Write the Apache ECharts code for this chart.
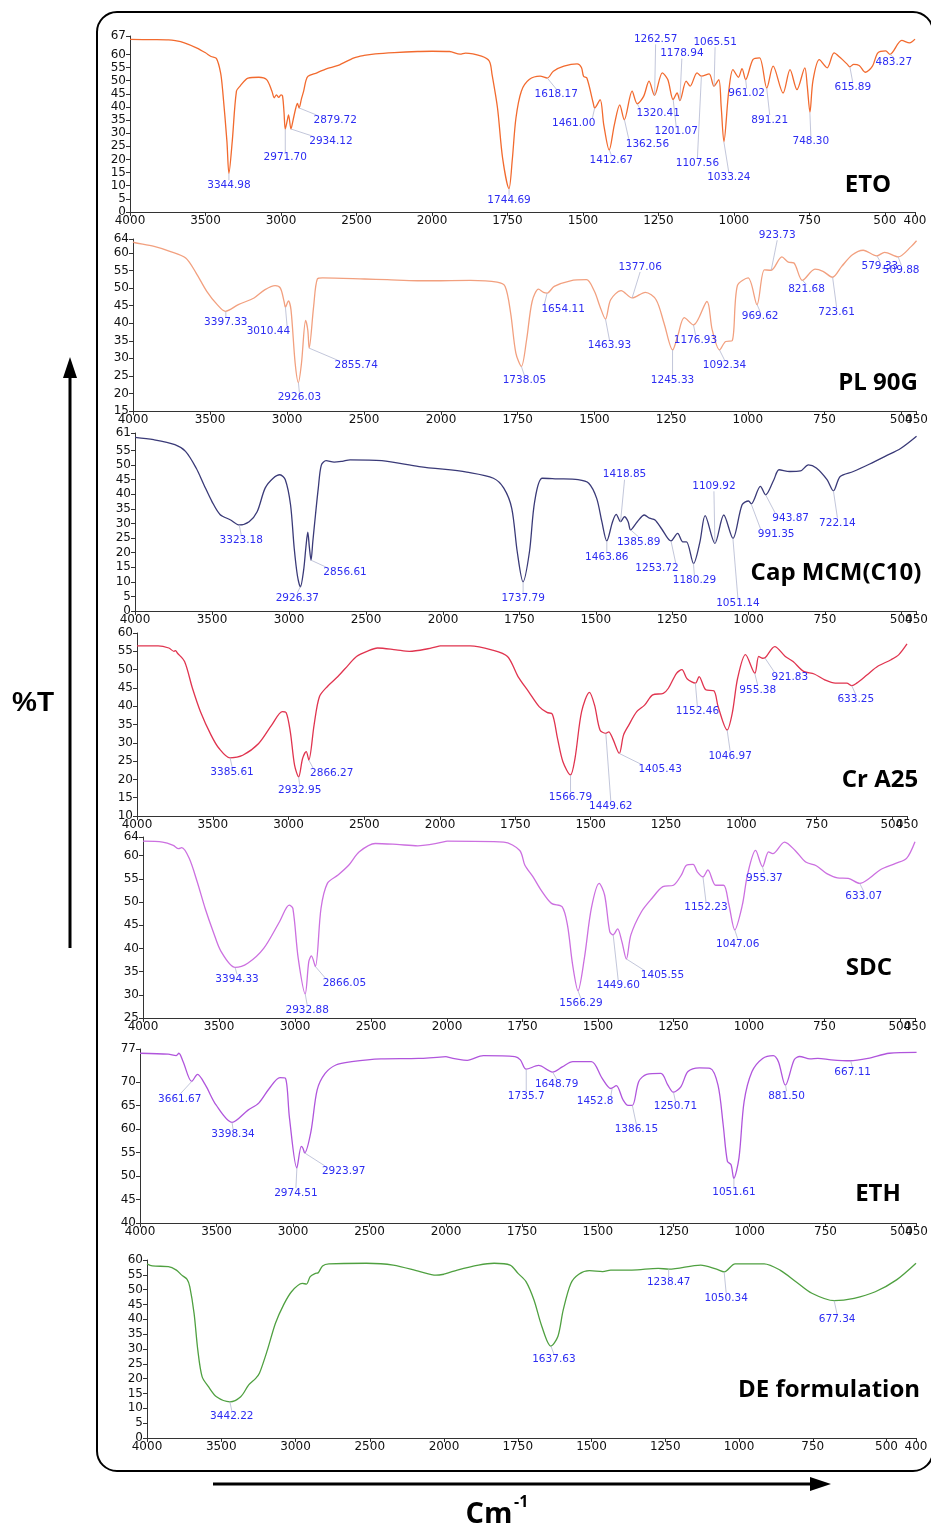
<!DOCTYPE html>
<html>
<head>
<meta charset="utf-8">
<script src="https://cdn.jsdelivr.net/npm/echarts@6/dist/echarts.min.js"></script>
<style>html,body{margin:0;padding:0;background:#fff}#main{width:931px;height:1527px}</style>
</head>
<body>
<div id="main"></div>
<script>
// tick labels
var xTicksLeft = [4000, 3500, 3000, 2500, 2000];
var xTicksRight400 = [1750, 1500, 1250, 1000, 750, 500, 400];
var xTicksRight450 = [1750, 1500, 1250, 1000, 750, 500, 450];
var etoTicks = [0, 5, 10, 15, 20, 25, 30, 35, 40, 45, 50, 55, 60, 67];
var pl90gTicks = [15, 20, 25, 30, 35, 40, 45, 50, 55, 60, 64];
var capTicks = [0, 5, 10, 15, 20, 25, 30, 35, 40, 45, 50, 55, 61];
var crTicks = [10, 15, 20, 25, 30, 35, 40, 45, 50, 55, 60];
var sdcTicks = [25, 30, 35, 40, 45, 50, 55, 60, 64];
var ethTicks = [40, 45, 50, 55, 60, 65, 70, 75, 77];
var deTicks = [0, 5, 10, 15, 20, 25, 30, 35, 40, 45, 50, 55, 60];

// spectra: [wavenumber cm-1, %T]
var etoData = [[4000,65.7],[3850,65.6],[3745,65.5],[3700,65.2],[3640,64.4],[3560,62.5],[3500,60.6],[3463,59.2],[3428,58.5],[3400,53],[3386,46],[3358,26.8],[3345,14.7],[3323,26.8],[3295,46],[3270,48],[3218,51],[3147,51.3],[3095,50.4],[3060,46],[3045,43.5],[3030,44.6],[3015,43.6],[3000,44.6],[2990,44.2],[2980,38],[2972,31.6],[2958,35],[2950,37],[2934,31.6],[2920,35],[2902,39.6],[2891,41.3],[2880,39.6],[2865,43],[2850,46],[2835,50],[2821,51.7],[2762,53],[2700,54.5],[2621,55.8],[2516,58.7],[2450,59.6],[2375,60.2],[2250,60.7],[2095,61.1],[2000,61.2],
  [1942,61.1],[1907,60.1],[1889,60.5],[1836,59.3],[1810,57.4],[1801,52.3],[1783,39.6],[1766,20.4],[1745,8.9],[1734,20],[1722,35.7],[1704,46],[1678,50.4],[1642,51.7],[1618,51],[1598,53.6],[1563,55.5],[1519,56.4],[1505,55],[1498,51.7],[1487,51],[1466,41.5],[1461,39.6],[1443,42.8],[1431,33.2],[1413,23.6],[1396,33.2],[1378,40.8],[1363,35.1],[1337,46],[1320,41.2],[1299,44],[1281,49.8],[1263,44.4],[1237,53],[1219,50.4],[1201,42.8],[1188,45.3],[1179,42.4],[1158,49.8],[1145,47.9],[1122,53],[1108,51.7],[1082,52.6],[1066,47.9],[1050,50.4],[1042,40],[1033,26.8],[1017,46],[1003,54.2],[985,51.3],[973,54.6],[961,50.4],[937,58],[915,58.7],[891,47.2],[870,55.5],[837,45.3],[814,54.2],[791,46.6],[765,54.9],[757,48],[748,38],[738,50],[717,58],[691,54.9],[668,60.6],[647,58.7],[624,56.2],[616,55.3],[603,56.2],[585,55.8],[564,53.2],[541,55.5],[523,60.6],[497,61.3],[483,60],[444,65.3],[418,64.4],[400,65.8]];
var pl90gData = [[4000,63.2],[3993,63],[3863,61.9],[3761,60.5],[3658,58.6],[3590,54.3],[3521,49.1],[3453,45.3],[3400,43.4],[3316,45.3],[3214,47.2],[3145,49.5],[3077,50.7],[3043,50],[3019,46.2],[3010,44.6],[2991,46.4],[2974,43.8],[2947,28.6],[2926,23.1],[2906,28.6],[2879,40.8],[2865,38],[2856,32.9],[2827,44.8],[2803,52.6],[2769,52.9],[2496,52.6],[2350,52.4],[2154,52.1],[2000,52.1],
  [1904,52.2],[1817,51.7],[1791,50.5],[1773,42.9],[1756,31.5],[1738,27.7],[1721,35.3],[1703,46.2],[1682,49.7],[1666,48.8],[1654,48.6],[1631,50.5],[1578,52.1],[1526,52.4],[1500,49.1],[1482,44.8],[1464,41.2],[1447,46.7],[1413,49.3],[1377,47.2],[1334,48.8],[1299,46.7],[1273,40],[1245,32.4],[1229,36.2],[1207,41.6],[1177,39.5],[1133,46.2],[1116,38.1],[1092,32.4],[1072,34.8],[1051,35],[1034,50.7],[999,52.9],[970,45.3],[946,55.2],[924,55.1],[889,58.9],[868,57.4],[850,57.2],[822,52.2],[781,55.4],[755,54.8],[724,53.1],[694,56.2],[659,59.5],[624,60.8],[580,59.2],[554,60.2],[510,58.9],[467,61.9],[450,63.5]];
var capData = [[4000,59.5],[3879,58.7],[3741,57],[3672,54.7],[3603,49],[3552,43.2],[3500,37.5],[3448,33.1],[3379,31.2],[3323,29.5],[3259,30.6],[3207,34],[3155,42.1],[3103,45.5],[3059,46.7],[3024,45],[2990,36.4],[2966,21.4],[2945,12],[2926,8.3],[2905,14],[2890,22],[2878,27],[2868,22],[2857,17.4],[2845,24],[2828,33],[2810,42],[2790,50],[2759,51.5],[2707,51],[2655,51.3],[2603,51.8],[2397,51.5],[2155,49.5],[2000,48.6],
  [1922,47.6],[1835,45.5],[1801,42.1],[1775,35.2],[1757,20.3],[1738,10],[1717,20.3],[1700,37.5],[1675,45.5],[1627,45.3],[1558,45],[1523,43.8],[1497,38.6],[1480,30.6],[1464,24],[1445,30.6],[1433,33.1],[1419,30.6],[1406,32.3],[1394,30.6],[1386,27.8],[1364,30.6],[1341,32.9],[1324,31.8],[1306,31.2],[1284,28.1],[1254,24],[1232,26.6],[1215,23.7],[1203,23.7],[1180,16.3],[1159,23.7],[1142,32.7],[1110,23.2],[1081,32.9],[1051,24.9],[1021,36.4],[1000,37.7],[991,36.7],[961,42.7],[944,39.8],[917,45],[900,48.4],[865,47.8],[830,48],[804,50.1],[778,49],[743,45],[722,41.2],[700,46.1],[657,47.8],[605,50.3],[553,53],[501,55.8],[450,59.9]];
var crData = [[4000,56.5],[3860,56.5],[3790,55.9],[3756,55],[3745,55.2],[3735,54.6],[3686,52.2],[3634,44.9],[3581,38.5],[3511,32.1],[3459,28.5],[3386,25.9],[3302,26.6],[3197,29.8],[3110,34.9],[3040,38.5],[3016,38.3],[2988,33],[2960,23.9],[2933,20.7],[2907,25.7],[2883,27.6],[2866,25.3],[2831,34.9],[2796,42.6],[2743,45.4],[2674,48.1],[2604,51.3],[2551,53.6],[2482,55],[2412,55.9],[2290,55.4],[2202,55],[2080,55.7],[2000,56.5],
  [1900,56.5],[1829,55.4],[1776,53.6],[1741,48.1],[1706,44],[1671,39.9],[1645,38.3],[1627,37.8],[1610,31.2],[1592,24.8],[1567,21.2],[1552,25.7],[1530,38.5],[1504,43.8],[1487,40.3],[1469,33.5],[1450,32.6],[1440,33],[1426,31],[1405,27.1],[1391,32.1],[1373,34.9],[1347,38.5],[1321,40.3],[1294,43.1],[1259,43.5],[1242,44.9],[1215,49],[1197,50],[1180,47.5],[1152,46.3],[1140,48.1],[1118,44.5],[1091,44.2],[1077,39.9],[1047,33.5],[1030,38.1],[1012,47.7],[986,54.1],[955,49],[942,53.6],[930,53.1],[922,53.2],[889,56.3],[854,53.6],[828,52.2],[793,49.5],[758,48.8],[723,47.2],[688,46.3],[650,46.3],[633,45.6],[617,46.3],[582,48.6],[547,50.9],[503,52.7],[477,54.1],[450,57]];
var sdcData = [[4000,63.1],[3871,62.9],[3801,62.2],[3766,61.5],[3745,61.7],[3696,59.4],[3643,54.3],[3591,48.6],[3538,43.6],[3486,39.3],[3394,35.9],[3311,36.8],[3206,40],[3101,45.8],[3038,49.3],[3014,48.6],[2979,37.9],[2933,30.2],[2909,37.2],[2892,38.4],[2866,36.1],[2829,48.6],[2787,54],[2717,55.8],[2647,57.9],[2577,60.8],[2472,62.6],[2332,62.4],[2192,62.1],[2000,63.1],
  [1812,62.9],[1759,61.1],[1742,57.9],[1715,55.4],[1689,52.6],[1654,49.7],[1619,49],[1601,45],[1584,36.5],[1566,30.9],[1545,37.9],[1522,48.6],[1496,54],[1478,51.5],[1461,43.6],[1450,42.9],[1435,44.2],[1421,41.5],[1406,37.7],[1391,42.9],[1356,47.9],[1321,50.8],[1285,53.3],[1250,53.6],[1224,55.8],[1207,57.9],[1185,58.1],[1171,56.5],[1152,55.4],[1136,56.9],[1110,53.6],[1084,53.6],[1066,49.3],[1047,44],[1022,49.3],[1005,55.8],[978,61.1],[955,57.6],[935,60.8],[921,60.4],[882,62.9],[847,61.1],[812,58.6],[777,57.8],[742,56.1],[707,55.2],[671,55.1],[633,54],[601,55.1],[566,56.9],[514,58.3],[478,59.4],[450,63]];
var ethData = [[4000,76.1],[3816,75.9],[3763,75.6],[3746,76.1],[3718,74.3],[3662,70.1],[3624,71.6],[3572,69.3],[3503,65.1],[3398,61.4],[3294,64],[3224,65.5],[3155,68.6],[3085,70.9],[3050,70.8],[3023,62.3],[2975,51.7],[2946,56.3],[2935,55.9],[2924,54.9],[2883,59.4],[2842,68.3],[2790,71.8],[2720,73.6],[2616,74.3],[2424,74.9],[2181,75],[2000,75.4],
  [1930,74.6],[1877,75.6],[1773,75.4],[1755,74.7],[1736,72.7],[1695,73.5],[1649,72.1],[1617,73.2],[1582,74.3],[1521,74.3],[1486,70.8],[1457,68.6],[1439,69.2],[1417,66.2],[1400,65],[1386,65],[1365,70.1],[1339,71.6],[1292,71.8],[1269,69.3],[1251,67.8],[1226,69],[1203,72.2],[1165,73],[1130,72.9],[1104,69.3],[1087,60.9],[1073,53.1],[1061,52.4],[1052,49.5],[1035,53.8],[1018,65.8],[992,72.2],[957,75],[922,75.6],[905,74.3],[882,69.3],[853,74.7],[835,75.4],[801,74.9],[775,75],[731,74.7],[670,74.5],[610,75],[540,76.1],[450,76.3]];
var deData = [[4000,58.7],[3964,58],[3856,57.8],[3802,56.6],[3766,54.9],[3730,53.5],[3712,51],[3683,42],[3658,29.7],[3629,20.7],[3586,17.3],[3532,13.9],[3442,12.2],[3369,13.9],[3315,17.9],[3268,20.1],[3243,21.8],[3189,29.7],[3135,38.7],[3081,44.8],[3027,49.3],[2955,52.1],[2926,51.9],[2901,54.4],[2865,55.5],[2847,55.7],[2818,58],[2775,58.7],[2523,58.9],[2342,58.3],[2162,56.1],[2054,54.9],[2000,55.2],
  [1955,56.6],[1883,58.3],[1830,58.9],[1776,58.3],[1749,55.5],[1722,52.7],[1695,46.5],[1668,37.5],[1638,31],[1614,34.2],[1596,43.1],[1570,52.1],[1543,55.2],[1507,56.4],[1462,56.1],[1435,56.6],[1363,56.6],[1274,57.2],[1238,56.9],[1130,58.3],[1076,56.9],[1050,56],[1013,58.7],[915,58.7],[861,56.6],[807,52.7],[753,48.8],[677,46.3],[610,47.1],[538,49.3],[466,53.3],[400,58.9]];

// peak labels: [text, %T at peak]
var etoPeaks = [['3344.98',14.7],['2971.70',31.6],['2934.12',31.6],['2879.72',39.6],['1744.69',8.9],['1618.17',51],['1461.00',39.6],['1412.67',23.6],['1362.56',35.1],['1320.41',41.2],['1262.57',44.4],['1201.07',42.8],['1178.94',42.4],['1107.56',51.7],['1065.51',47.9],['1033.24',26.8],['961.02',50.4],['891.21',47.2],['748.30',38],['615.89',55.3],['483.27',60]];
var pl90gPeaks = [['3397.33',43.4],['3010.44',44.6],['2926.03',23.1],['2855.74',32.9],['1738.05',27.7],['1654.11',48.6],['1377.06',47.2],['1463.93',41.2],['1245.33',32.4],['1176.93',39.5],['1092.34',32.4],['969.62',45.3],['923.73',55.1],['821.68',52.2],['723.61',53.1],['579.33',59.2],['509.88',58.9]];
var capPeaks = [['3323.18',29.5],['2926.37',8.3],['2856.61',17.4],['1737.79',10],['1418.85',30.6],['1463.86',24],['1385.89',27.8],['1253.72',24],['1180.29',16.3],['1109.92',23.2],['1051.14',24.9],['991.35',36.7],['943.87',39.8],['722.14',41.2]];
var crPeaks = [['3385.61',25.9],['2932.95',20.7],['2866.27',25.3],['1566.79',21.2],['1449.62',32.6],['1405.43',27.1],['1152.46',46.3],['1046.97',33.5],['955.38',49],['921.83',53.2],['633.25',45.6]];
var sdcPeaks = [['3394.33',35.9],['2932.88',30.2],['2866.05',36.1],['1566.29',30.9],['1449.60',42.9],['1405.55',37.7],['1152.23',55.4],['1047.06',44],['955.37',57.6],['633.07',54]];
var ethPeaks = [['3661.67',70.1],['3398.34',61.4],['2974.51',51.7],['2923.97',54.9],['1735.7',72.7],['1648.79',72.1],['1452.8',68.6],['1386.15',65],['1250.71',67.8],['1051.61',49.5],['881.50',69.3],['667.11',74.5]];
var dePeaks = [['3442.22',12.2],['1637.63',31],['1238.47',56.9],['1050.34',56],['677.34',46.3]];

// label offsets in px from the peak (layout only)
var etoOffsets = [[0,12],[0,28],[40,12],[36,12],[0,12],[9,16],[-21,15],[2,10],[23,24],[21,9],[1,-56],[3,32],[2,-47],[-4,87],[1,-44],[5,36],[1,14],[3,32],[1,29],[3,21],[4,8]];
var pl90gOffsets = [[0,11],[-17,24],[1,15],[47,17],[3,14],[16,16],[8,-31],[4,26],[0,30],[2,15],[5,15],[3,12],[6,-35],[4,9],[4,35],[3,10],[3,13]];
var capOffsets = [[2,15],[-3,11],[34,12],[0,16],[4,-47],[0,16],[8,12],[-14,27],[1,17],[-1,-57],[5,65],[25,30],[25,23],[4,32]];
var crOffsets = [[2,14],[1,13],[23,13],[0,22],[5,73],[41,16],[2,28],[3,26],[3,17],[25,19],[4,14]];
var sdcOffsets = [[2,12],[2,16],[29,17],[3,13],[5,50],[36,16],[3,30],[3,14],[2,12],[4,13]];
var ethOffsets = [[-12,18],[1,12],[-1,25],[39,18],[0,27],[4,12],[-17,13],[4,24],[2,14],[0,14],[1,11],[2,12]];
var deOffsets = [[2,14],[3,13],[0,13],[2,26],[3,19]];

// panel layout: box = [x of 4000, x of 2000, x of end, y top, y bottom]
var panels = [
    {name: 'ETO', data: etoData, peaks: etoPeaks, offsets: etoOffsets, yTicks: etoTicks, xRight: xTicksRight400, color: '#F26A2E', box: [130, 432, 915, 36, 212], title: [868, 185]},
    {name: 'PL 90G', data: pl90gData, peaks: pl90gPeaks, offsets: pl90gOffsets, yTicks: pl90gTicks, xRight: xTicksRight450, color: '#F2A07F', box: [133, 441, 918, 239, 411], title: [878, 383]},
    {name: 'Cap MCM(C10)', data: capData, peaks: capPeaks, offsets: capOffsets, yTicks: capTicks, xRight: xTicksRight450, color: '#3A3A78', box: [135, 443, 917, 433, 611], title: [836, 573]},
    {name: 'Cr A25', data: crData, peaks: crPeaks, offsets: crOffsets, yTicks: crTicks, xRight: xTicksRight450, color: '#E0344F', box: [137, 440, 907, 633, 816], title: [880, 780]},
    {name: 'SDC', data: sdcData, peaks: sdcPeaks, offsets: sdcOffsets, yTicks: sdcTicks, xRight: xTicksRight450, color: '#CC70E0', box: [143, 447, 915, 837, 1018], title: [869, 968]},
    {name: 'ETH', data: ethData, peaks: ethPeaks, offsets: ethOffsets, yTicks: ethTicks, xRight: xTicksRight450, color: '#B055DC', box: [140, 446, 917, 1049, 1223], title: [878, 1194]},
    {name: 'DE formulation', data: deData, peaks: dePeaks, offsets: deOffsets, yTicks: deTicks, xRight: xTicksRight400, color: '#4FA040', box: [147, 444, 916, 1260, 1438], title: [829, 1390]}
];

var axisColor = '#333';
var tickFont = 'DejaVu Sans';

function plainNum(v) {
    return String(v);
}

// tickVals: where tick marks go (null = no ticks), labelVals: which labels are written
function xAxisCfg(g, min, max, tickVals, labelVals, bare) {
    return {
        gridIndex: g, type: 'value', position: 'bottom', offset: 0, min: min, max: max, inverse: true,
        axisLine: {show: !bare, onZero: false, lineStyle: {color: axisColor, width: 1}},
        axisTick: {show: !!tickVals, length: 4, customValues: tickVals || [], lineStyle: {color: axisColor}},
        axisLabel: {customValues: labelVals, formatter: plainNum, showMinLabel: true, showMaxLabel: true, hideOverlap: false,
            fontSize: 12, color: '#111', margin: 3, fontFamily: tickFont},
        splitLine: {show: false}
    };
}

function yAxisCfg(g, ticks, visible) {
    return {
        gridIndex: g, type: 'value', min: ticks[0], max: ticks[ticks.length - 1], show: visible,
        axisLine: {show: true, onZero: false, lineStyle: {color: axisColor, width: 1}},
        axisTick: {show: true, length: 4, customValues: ticks, lineStyle: {color: axisColor}},
        axisLabel: {customValues: ticks, formatter: plainNum, showMinLabel: true, showMaxLabel: true, hideOverlap: false,
            fontSize: 12, color: '#111', margin: 4, fontFamily: tickFont},
        splitLine: {show: false}
    };
}

function peakSeries(xIdx, yIdx, list) {
    return {
        type: 'custom', xAxisIndex: xIdx, yAxisIndex: yIdx, silent: true, z: 5,
        data: list.map(function (d) { return [d.w, d.t]; }),
        renderItem: function (params, api) {
            var d = list[params.dataIndex];
            var pt = api.coord([api.value(0), api.value(1)]);
            var cx = pt[0] + d.dx, cy = pt[1] + d.dy;
            var half = d.text.length * 3.1;
            var ex = cx, ey = cy + (d.dy > 0 ? -5 : 5);
            if (Math.abs(d.dx) > 12) ex = cx - (d.dx > 0 ? 1 : -1) * (half - 3);
            return {
                type: 'group',
                children: [
                    {type: 'line', shape: {x1: pt[0], y1: pt[1], x2: ex, y2: ey}, style: {stroke: '#b3b8d0', lineWidth: 0.8}},
                    {type: 'text', x: cx, y: cy, style: {text: d.text, fill: '#2d2df2', font: '10.5px "DejaVu Sans"', align: 'center', verticalAlign: 'middle'}}
                ]
            };
        }
    };
}

var grids = [], xAxes = [], yAxes = [], series = [];
var graphics = [
    {type: 'rect', shape: {x: 97, y: 12, width: 836, height: 1459, r: 20}, style: {fill: 'none', stroke: '#000', lineWidth: 2}},
    {type: 'line', shape: {x1: 70, y1: 948, x2: 70, y2: 374}, style: {stroke: '#000', lineWidth: 3}},
    {type: 'polygon', shape: {points: [[70, 357], [63, 378], [77, 378]]}, style: {fill: '#000'}},
    {type: 'line', shape: {x1: 213, y1: 1484, x2: 814, y2: 1484}, style: {stroke: '#000', lineWidth: 3}},
    {type: 'polygon', shape: {points: [[831, 1484], [810, 1477], [810, 1491]]}, style: {fill: '#000'}},
    {type: 'text', x: 33, y: 703, style: {text: '%T', fill: '#000', font: 'bold 28px "Liberation Sans"', align: 'center', verticalAlign: 'middle'}},
    {type: 'text', x: 489, y: 1515, style: {text: 'Cm', fill: '#000', font: 'bold 29px "Open Sans"', align: 'center', verticalAlign: 'middle'}},
    {type: 'text', x: 514, y: 1502, style: {text: '-1', fill: '#000', font: 'bold 16px "Open Sans"', align: 'left', verticalAlign: 'middle'}}
];

var xi = 0;
panels.forEach(function (p, i) {
    var L = p.box[0], M = p.box[1], R = p.box[2], T = p.box[3], B = p.box[4];
    var gl = 2 * i, gr = 2 * i + 1;
    var endTick = p.xRight[p.xRight.length - 1];
    grids.push({left: L, top: T, width: M - L, height: B - T});
    grids.push({left: M, top: T, width: R - M, height: B - T});
    var xl = xi, xr = xi + 1;
    xAxes.push(xAxisCfg(gl, 2000, 4000, xTicksLeft, xTicksLeft, false));
    xAxes.push(xAxisCfg(gr, endTick, 2000, p.xRight, p.xRight.slice(0, -1), false));
    // end tick label on its own axis, so it is not dropped where it overlaps 500
    xAxes.push(xAxisCfg(gr, endTick, 2000, null, [endTick], true));
    xi += 3;
    yAxes.push(yAxisCfg(gl, p.yTicks, true));
    yAxes.push(yAxisCfg(gr, p.yTicks, false));

    var lineStyle = {color: p.color, width: 1.3};
    series.push({type: 'line', xAxisIndex: xl, yAxisIndex: gl, data: p.data.filter(function (d) { return d[0] >= 2000; }),
        showSymbol: false, smooth: 0.3, lineStyle: lineStyle, itemStyle: {color: p.color}, silent: true});
    series.push({type: 'line', xAxisIndex: xr, yAxisIndex: gr, data: p.data.filter(function (d) { return d[0] <= 2000; }),
        showSymbol: false, smooth: 0.3, lineStyle: lineStyle, itemStyle: {color: p.color}, silent: true});

    var left = [], right = [];
    p.peaks.forEach(function (pk, k) {
        var item = {w: parseFloat(pk[0]), t: pk[1], text: pk[0], dx: p.offsets[k][0], dy: p.offsets[k][1]};
        if (item.w >= 2000) left.push(item); else right.push(item);
    });
    if (left.length) series.push(peakSeries(xl, gl, left));
    if (right.length) series.push(peakSeries(xr, gr, right));

    graphics.push({type: 'text', x: p.title[0], y: p.title[1], z: 10,
        style: {text: p.name, fill: '#000', font: 'bold 24px "Open Sans"', align: 'center', verticalAlign: 'middle'}});
});

var myChart = echarts.init(document.getElementById('main'));
myChart.setOption({
    animation: false,
    backgroundColor: '#fff',
    grid: grids,
    xAxis: xAxes,
    yAxis: yAxes,
    series: series,
    graphic: graphics
});
</script>
</body>
</html>
